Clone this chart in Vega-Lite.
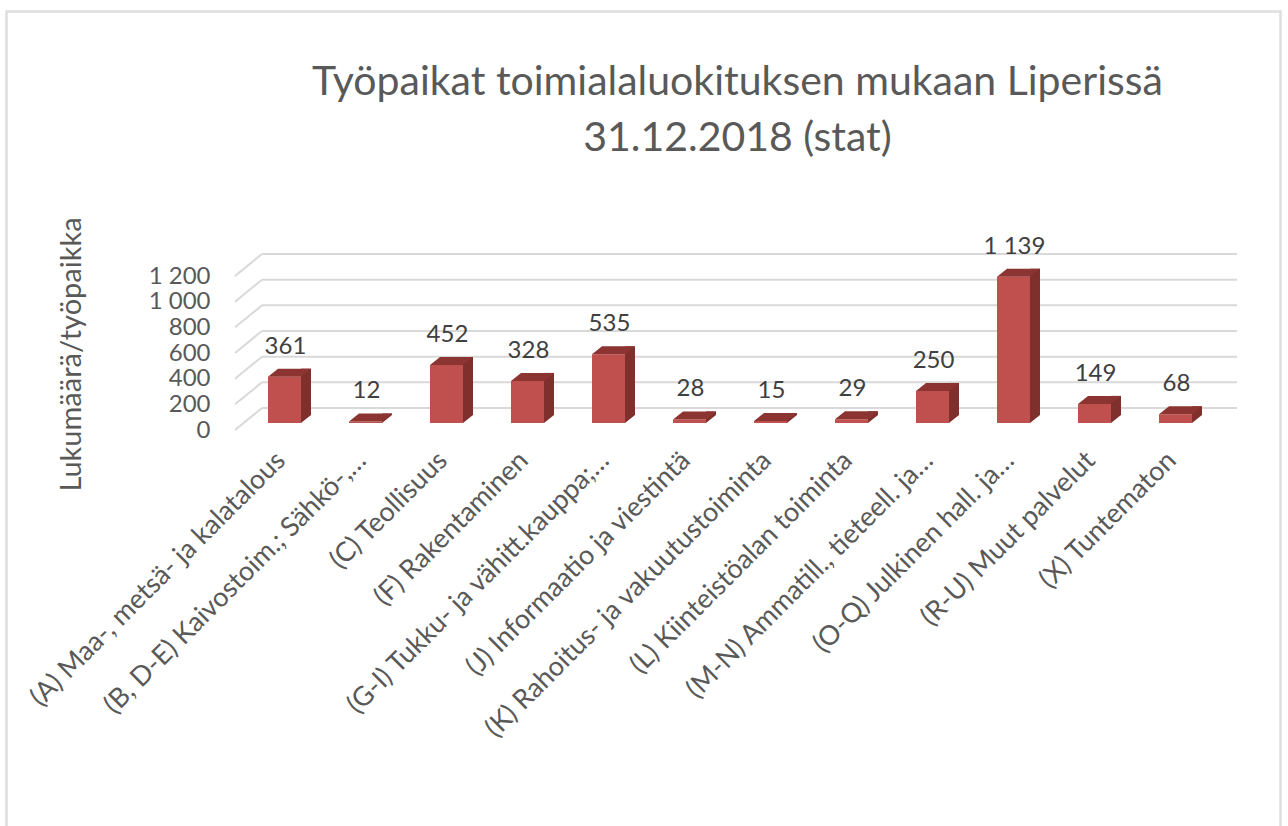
{
"$schema":"https://vega.github.io/schema/vega-lite/v6.json",
"autosize":{"type":"none"},
"padding":{"left":262,"right":51,"top":269,"bottom":403},
"width":975,"height":154,
"background":"white",
"view":{"stroke":null},
"config":{"font":"Lato"},
"title":{"text":["Työpaikat toimialaluokituksen mukaan Liperissä","31.12.2018 (stat)"],"anchor":"middle","frame":"group","dx":-12,"dy":185,"baseline":"alphabetic","fontSize":41,"fontWeight":"normal","color":"#595959","lineHeight":56,"offset":0,"font":"Lato"},
"datasets":{
"bars":[
{"toimiala":"(A) Maa-, metsä- ja kalatalous","tyopaikat":361,"label":"361"},
{"toimiala":"(B, D-E) Kaivostoim.; Sähkö-,…","tyopaikat":12,"label":"12"},
{"toimiala":"(C) Teollisuus","tyopaikat":452,"label":"452"},
{"toimiala":"(F) Rakentaminen","tyopaikat":328,"label":"328"},
{"toimiala":"(G-I) Tukku- ja vähitt.kauppa;…","tyopaikat":535,"label":"535"},
{"toimiala":"(J) Informaatio ja viestintä","tyopaikat":28,"label":"28"},
{"toimiala":"(K) Rahoitus- ja vakuutustoiminta","tyopaikat":15,"label":"15"},
{"toimiala":"(L) Kiinteistöalan toiminta","tyopaikat":29,"label":"29"},
{"toimiala":"(M-N)  Ammatill., tieteell. ja…","tyopaikat":250,"label":"250"},
{"toimiala":"(O-Q)  Julkinen hall. ja…","tyopaikat":1139,"label":"1 139"},
{"toimiala":"(R-U) Muut palvelut","tyopaikat":149,"label":"149"},
{"toimiala":"(X) Tuntematon","tyopaikat":68,"label":"68"}
],
"grid":[{"v":0},{"v":200},{"v":400},{"v":600},{"v":800},{"v":1000},{"v":1200}]
},
"layer":[
{"data":{"values":[{"frame":1}]},
 "mark":{"type":"point","shape":"M-743,-257.5L531,-257.5L531,600L-743,600Z","size":4,"filled":false,"stroke":"#dedede","strokeWidth":2.5,"opacity":1},
 "encoding":{"y":{"datum":1200,"type":"quantitative","title":"Lukumäärä/työpaikka",
   "scale":{"domain":[0,1200],"nice":false},
   "axis":{"values":[0,200,400,600,800,1000,1200],"tickCount":7,"labelExpr":"replace(format(datum.value,','),',',' ')","labelOverlap":false,"grid":false,"domain":false,"ticks":false,"labelFontSize":24,"labelColor":"#595959","labelOffset":7,"labelPadding":52,"labelFont":"Lato","titleFontSize":29,"titleFontWeight":"normal","titleColor":"#595959","titleFont":"Lato","titleX":-176,"titleY":85}}}},
{"data":{"name":"grid"},
 "mark":{"type":"point","shape":"M-514.5,22L-487.5,0","size":4,"filled":false,"stroke":"#d9d9d9","strokeWidth":2,"opacity":1,"yOffset":-15},
 "encoding":{"y":{"field":"v","type":"quantitative","title":"Lukumäärä/työpaikka"}}},
{"data":{"name":"grid"},
 "mark":{"type":"rule","stroke":"#d9d9d9","strokeWidth":2,"yOffset":-15},
 "encoding":{"y":{"field":"v","type":"quantitative","title":"Lukumäärä/työpaikka"}}},
{"data":{"name":"bars"},
 "mark":{"type":"bar","size":10,"color":"#7f2f2c","xOffset":2,"yOffset":-8,"y2Offset":-8},
 "encoding":{
  "x":{"field":"toimiala","type":"nominal","sort":null,"title":null,
   "scale":{"paddingInner":0,"paddingOuter":0.0185},
   "axis":{"labelAngle":-45,"labelAlign":"right","labelBaseline":"middle","labelFontSize":27,"labelColor":"#595959","labelOffset":-23,"labelPadding":33,"ticks":false,"domain":false,"labelLimit":500,"labelFont":"Lato"}},
  "y":{"field":"tyopaikat","type":"quantitative","title":"Lukumäärä/työpaikka"}}},
{"data":{"name":"bars"},
 "mark":{"type":"point","shape":"M-3,0L-3,-8L7,-8Z","size":4,"filled":true,"color":"#7f2f2c","opacity":1},
 "encoding":{"x":{"field":"toimiala","type":"nominal","sort":null,"title":null},"y":{"datum":0,"type":"quantitative","title":"Lukumäärä/työpaikka"}}},
{"data":{"name":"bars"},
 "mark":{"type":"bar","size":33,"color":"#c0504d","xOffset":-19.5},
 "encoding":{"x":{"field":"toimiala","type":"nominal","sort":null,"title":null},"y":{"field":"tyopaikat","type":"quantitative","title":"Lukumäärä/työpaikka"}}},
{"data":{"name":"bars"},
 "mark":{"type":"point","shape":"M-16.5,0L-6.5,-8L26.5,-8L16.5,0Z","size":4,"filled":true,"color":"#8c3431","opacity":1,"xOffset":-19.5},
 "encoding":{"x":{"field":"toimiala","type":"nominal","sort":null,"title":null},"y":{"field":"tyopaikat","type":"quantitative","title":"Lukumäärä/työpaikka"}}},
{"data":{"name":"bars"},
 "mark":{"type":"text","fontSize":24,"color":"#404040","baseline":"alphabetic","align":"center","xOffset":-18.5,"yOffset":-23,"font":"Lato"},
 "encoding":{"x":{"field":"toimiala","type":"nominal","sort":null,"title":null},"y":{"field":"tyopaikat","type":"quantitative","title":"Lukumäärä/työpaikka"},"text":{"field":"label","type":"nominal"}}}
]
}
